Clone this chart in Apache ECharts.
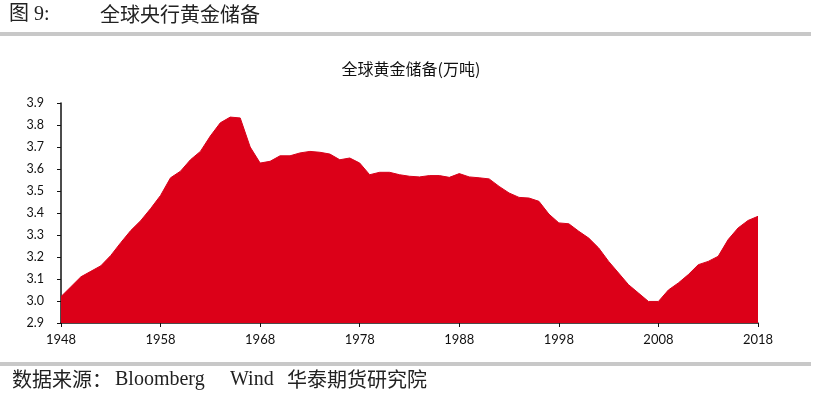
<!DOCTYPE html>
<html>
<head>
<meta charset="utf-8">
<script src="https://cdn.jsdelivr.net/npm/echarts@6/dist/echarts.min.js"></script>
<style>
    html, body { margin: 0; padding: 0; background: #fff; }
    #chart { width: 819px; height: 399px; }
</style>
</head>
<body>
<div id="chart"></div>
<script>
// 年份 1948-2018
var years = [];
for (var y = 1948; y <= 2018; y++) {
    years.push(String(y));
}
// 全球黄金储备(万吨)
var goldReserve = [
    3.02, 3.065, 3.11, 3.135, 3.16, 3.207, 3.265, 3.32, 3.365, 3.42,
    3.48, 3.56, 3.59, 3.642, 3.68, 3.75, 3.81, 3.836, 3.832, 3.70,
    3.627, 3.635, 3.66, 3.66, 3.673, 3.68, 3.676, 3.668, 3.642, 3.65,
    3.627, 3.574, 3.585, 3.585, 3.574, 3.567, 3.564, 3.57, 3.57, 3.562,
    3.579, 3.564, 3.56, 3.555, 3.521, 3.491, 3.471, 3.468, 3.453, 3.395,
    3.355, 3.351, 3.317, 3.286, 3.241, 3.18, 3.127, 3.074, 3.036, 2.998,
    2.998, 3.05, 3.082, 3.12, 3.165, 3.18, 3.203, 3.279, 3.332, 3.366,
    3.385
];
var xTickLabels = ['1948', '1958', '1968', '1978', '1988', '1998', '2008', '2018'];

var myChart = echarts.init(document.getElementById('chart'));

var serifFont = '"Liberation Serif", "Noto Sans CJK SC"';

var option = {
    animation: false,
    title: {
        text: '全球黄金储备(万吨)',
        left: 406,
        top: 56,
        textAlign: 'center',
        textStyle: {
            fontFamily: 'Noto Sans CJK SC',
            fontSize: 16,
            fontWeight: 'normal',
            color: '#111'
        }
    },
    graphic: [
        // 顶部标题
        {
            type: 'text', left: 9, top: 5,
            style: { text: '图 9:', font: '20px ' + serifFont, fill: '#222' }
        },
        {
            type: 'text', left: 100, top: 4,
            style: { text: '全球央行黄金储备', font: '20px "Noto Sans CJK SC"', fill: '#222' }
        },
        // 灰色分隔条
        {
            type: 'rect', shape: { x: 0, y: 32, width: 811, height: 4 },
            style: { fill: '#c8c8c8' }
        },
        {
            type: 'rect', shape: { x: 0, y: 362, width: 811, height: 4 },
            style: { fill: '#c8c8c8' }
        },
        // 数据来源
        {
            type: 'text', left: 12, top: 369,
            style: { text: '数据来源：', font: '20px "Noto Sans CJK SC"', fill: '#222' }
        },
        {
            type: 'text', left: 115, top: 370,
            style: { text: 'Bloomberg', font: '20px ' + serifFont, fill: '#222' }
        },
        {
            type: 'text', left: 230, top: 370,
            style: { text: 'Wind', font: '20px ' + serifFont, fill: '#222' }
        },
        {
            type: 'text', left: 287, top: 369,
            style: { text: '华泰期货研究院', font: '20px "Noto Sans CJK SC"', fill: '#222' }
        }
    ],
    grid: {
        left: 61,
        right: 61,
        top: 103,
        bottom: 76
    },
    xAxis: {
        type: 'category',
        data: years,
        boundaryGap: false,
        axisLine: { lineStyle: { color: '#111', width: 1.5 } },
        axisTick: {
            length: 4,
            lineStyle: { color: '#111' },
            interval: function(index, value) {
                return xTickLabels.indexOf(value) > -1;
            }
        },
        axisLabel: {
            color: '#111',
            fontFamily: 'Lato',
            fontSize: 13,
            margin: 10,
            interval: function(index, value) {
                return xTickLabels.indexOf(value) > -1;
            }
        },
        splitLine: { show: false }
    },
    yAxis: {
        type: 'value',
        min: 2.9,
        max: 3.9,
        interval: 0.1,
        axisLine: { show: true, lineStyle: { color: '#111', width: 1.5 } },
        axisTick: { show: true, length: 4, lineStyle: { color: '#111' } },
        axisLabel: {
            color: '#111',
            fontFamily: 'Lato',
            fontSize: 12.5,
            margin: 17,
            formatter: function(v) {
                return v.toFixed(1);
            }
        },
        splitLine: { show: false }
    },
    series: [{
        name: '全球黄金储备',
        type: 'line',
        data: goldReserve,
        symbol: 'none',
        smooth: false,
        lineStyle: { color: '#d8001a', width: 1 },
        areaStyle: { color: '#dc0018', opacity: 1, origin: 'start' }
    }]
};
myChart.setOption(option);
</script>
</body>
</html>
